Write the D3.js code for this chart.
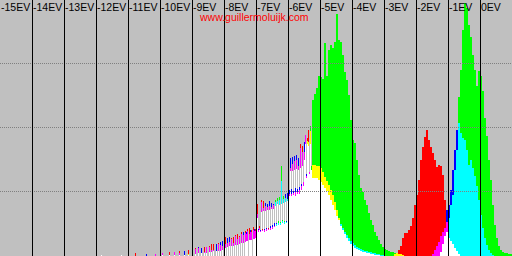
<!DOCTYPE html>
<html><head><meta charset="utf-8">
<script src="https://cdn.jsdelivr.net/npm/d3@7"></script>
<style>html,body{margin:0;padding:0;background:#c0c0c0;overflow:hidden;} svg{display:block;}</style>
</head><body>
<script>
// ---- Axis / tick data ----
const evTicks  = [-15,-14,-13,-12,-11,-10,-9,-8,-7,-6,-5,-4,-3,-2,-1,0];
const evLabels = ["-15EV","-14EV","-13EV","-12EV","-11EV","-10EV","-9EV","-8EV","-7EV","-6EV","-5EV","-4EV","-3EV","-2EV","-1EV","0EV"];
const evLines  = [-14,-13,-12,-11,-10,-9,-8,-7,-6,-5,-4,-3,-2,-1,0];
const gridLevels = [64,128,192];
const watermark = "www.guillermoluijk.com";

// ---- Histogram data (column index = 1/32 EV, heights on 0..256 scale) ----
// sparse low-level spikes
const sparseBins = [101,121,135,146,155,162,169,174,179,184,188,195,198,201,204,206,209,211,213,216,218,220,222,225,227,229,231,233,235,237,239,241,243,245,246,247,249,250,251,253,254,255];
const sparseR = [1,1,3,0,2,3,4,4,5,1,6,8,8,3,9,9,10,12,12,5,13,11,10,19,13,14,18,19,21,22,20,24,21,25,22,27,28,24,26,29,25,27];
const sparseG = [1,1,0,0,0,1,1,1,1,1,2,2,3,3,3,3,4,4,5,5,5,5,6,8,9,10,10,10,11,11,12,13,13,14,15,15,16,16,16,17,17,18];
const sparseB = [1,1,0,2,2,3,1,4,3,5,1,7,9,8,4,9,9,6,6,12,12,14,15,12,18,19,17,13,20,17,19,22,24,23,24,25,22,26,24,26,27,25];
// fine (1-column) region from column 257 to 311
const fineStart = 257;
const fineR = [52,26,30,25,56,27,55,26,50,27,49,28,50,28,49,29,51,30,50,30,52,31,51,31,52,33,53,32,54,33,55,90,62,88,62,92,63,95,64,96,64,90,66,112,70,110,74,104,121,80,118,126,84,125,86];
const fineG = [38,24,26,24,44,25,45,24,45,25,46,26,46,26,47,27,47,29,56,32,58,35,59,34,90,36,60,35,58,34,57,86,60,85,60,85,61,86,60,87,62,86,62,88,66,90,70,96,112,78,115,114,82,130,90];
const fineB = [42,27,28,26,54,26,48,27,53,28,52,27,55,30,53,31,52,33,54,33,55,33,56,33,75,35,57,34,62,35,63,96,66,98,67,99,65,100,68,101,67,98,69,108,72,104,74,114,121,82,112,110,84,112,86];
// dense region, 2-column bins from column 312 to 511
const denseStart = 312, denseStep = 2;
const denseR = [91,91,90,90,88,84,79,75,71,66,61,54,46,38,30,26,22,18,15,12,10,8,7,6,5,4,4,3,3,2,2,1,1,1,0,0,0,0,0,0,0,2,3,6,10,18,23,23,26,30,38,51,61,76,96,109,119,126,116,109,103,96,89,91,90,81,56,34,18,15,12,8,5,2,0,0,0,0,0,0,0,0,0,0,0,0,0,0,0,0,0,0,0,0,0,0,0,0,0,0];
const denseG = [156,162,168,180,179,177,213,180,206,211,208,214,242,216,214,201,184,176,161,136,116,113,96,81,68,64,56,51,43,36,31,24,20,16,12,9,7,6,5,4,4,3,3,2,2,1,0,0,0,0,0,0,0,0,0,0,0,0,0,0,0,0,0,0,4,12,20,24,38,51,61,86,106,159,186,226,253,248,231,219,201,186,170,185,180,165,138,120,96,76,51,31,18,10,6,4,3,3,2,2];
const denseB = [78,78,78,76,74,71,68,65,61,56,51,46,40,36,32,28,24,21,18,15,13,11,9,8,7,6,5,5,4,4,3,3,2,2,1,1,0,0,0,0,0,0,0,0,0,0,0,0,0,0,0,0,0,0,0,0,0,0,0,0,2,6,10,14,20,24,28,46,51,66,86,106,126,133,123,118,116,106,91,96,88,80,70,56,41,28,18,11,6,3,1,0,0,0,0,0,0,0,0,0];

// ---- Drawing ----
const W = 512, H = 256;
const svg = d3.select("body").append("svg").attr("width", W).attr("height", H);
const evScale  = d3.scaleLinear().domain([-15, 1]).range([0, W]);
const colScale = d3.scaleLinear().domain([0, 512]).range([0, W]);
const yScale   = d3.scaleLinear().domain([0, 256]).range([H, 0]);

svg.append("rect").attr("width", W).attr("height", H).attr("fill", "#c0c0c0");

const columns = [];
sparseBins.forEach((c, i) => columns.push({bin: c, w: 1, r: sparseR[i], g: sparseG[i], bl: sparseB[i]}));
fineR.forEach((v, i) => columns.push({bin: fineStart + i, w: 1, r: fineR[i], g: fineG[i], bl: fineB[i]}));
denseR.forEach((v, i) => columns.push({bin: denseStart + i * denseStep, w: denseStep, r: denseR[i], g: denseG[i], bl: denseB[i]}));

const segs = [];
columns.forEach(c => {
  const lv = Array.from(new Set([c.r, c.g, c.bl].filter(v => v > 0))).sort((a, b) => a - b);
  let prev = 0;
  lv.forEach(l => {
    segs.push({x0: c.bin, x1: c.bin + c.w, lo: prev, hi: l,
      color: d3.rgb(c.r >= l ? 255 : 0, c.g >= l ? 255 : 0, c.bl >= l ? 255 : 0).formatHex()});
    prev = l;
  });
});

svg.append("g").attr("shape-rendering", "crispEdges")
  .selectAll("rect").data(segs).join("rect")
  .attr("x", d => colScale(d.x0))
  .attr("width", d => colScale(d.x1) - colScale(d.x0))
  .attr("y", d => yScale(d.hi))
  .attr("height", d => yScale(d.lo) - yScale(d.hi))
  .attr("fill", d => d.color);

svg.append("g").attr("shape-rendering", "crispEdges")
  .selectAll("line").data(gridLevels).join("line")
  .attr("x1", 0).attr("x2", W)
  .attr("y1", d => yScale(d) - 0.5).attr("y2", d => yScale(d) - 0.5)
  .attr("stroke", "#808080").attr("stroke-width", 1).attr("stroke-dasharray", "1,1");

svg.append("g").attr("shape-rendering", "crispEdges")
  .selectAll("line").data(evLines).join("line")
  .attr("x1", d => evScale(d) + 0.5).attr("x2", d => evScale(d) + 0.5)
  .attr("y1", 0).attr("y2", H)
  .attr("stroke", "#000").attr("stroke-width", 1);

svg.append("g").selectAll("text").data(evTicks).join("text")
  .attr("x", d => evScale(d) + 1).attr("y", 11)
  .attr("font-family", "'Liberation Sans', Arial, sans-serif")
  .attr("font-size", "10.5px").attr("fill", "#000")
  .text((d, i) => evLabels[i]);

svg.append("text").attr("x", 200).attr("y", 21)
  .attr("font-family", "'Liberation Sans', Arial, sans-serif")
  .attr("font-size", "10.5px").attr("fill", "#ff0000")
  .text(watermark);
</script>
</body></html>
